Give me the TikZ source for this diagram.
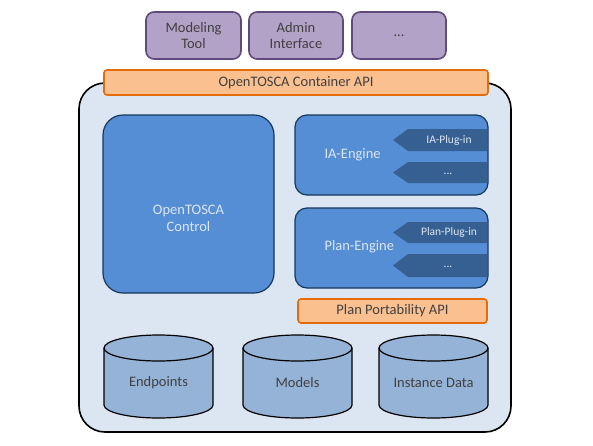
\documentclass[tikz,border=0pt]{standalone}
\usepackage{fontspec}
\setmainfont{Carlito}
\definecolor{purfill}{HTML}{B3A2C7}
\definecolor{purdraw}{HTML}{604A7B}
\definecolor{orfill}{HTML}{FAC090}
\definecolor{ordraw}{HTML}{E46C0A}
\definecolor{outfill}{HTML}{DCE6F2}
\definecolor{bluefill}{HTML}{558ED5}
\definecolor{bluedraw}{HTML}{17375E}
\definecolor{plugfill}{HTML}{376092}
\definecolor{cylfill}{HTML}{95B3D7}
\definecolor{txtgray}{HTML}{404040}
\definecolor{txtlight}{HTML}{DCE6F2}
\tikzset{
  toolbox/.style={draw=purdraw, fill=purfill, line width=1.6pt, rounded corners=8pt},
  apibox/.style={draw=ordraw, fill=orfill, line width=1.6pt, rounded corners=3pt},
  outerbox/.style={draw=black, fill=outfill, line width=1.6pt, rounded corners=26pt},
  ctrlbox/.style={draw=bluedraw, fill=bluefill, line width=1.2pt, rounded corners=20pt},
  enginebox/.style={draw=bluedraw, fill=bluefill, line width=1.2pt, rounded corners=12pt},
  plugshape/.style={fill=plugfill, draw=none},
  cylshape/.style={draw=black, fill=cylfill, line width=1.2pt},
  darktext/.style={text=txtgray, font=\fontsize{14.5}{16}\selectfont, align=center},
  lighttext/.style={text=txtlight, font=\fontsize{14.5}{17}\selectfont, align=center},
  plugtext/.style={text=txtlight, font=\fontsize{11.5}{13}\selectfont},
}
\newcommand{\mycyl}[5]{% name, left, right, label x, label
  \draw[cylshape] (#2,348) -- (#2,405)
    arc[start angle=180,end angle=360,x radius={(#3-#2)/2*1pt},y radius=13pt]
    -- (#3,348)
    arc[start angle=0,end angle=180,x radius={(#3-#2)/2*1pt},y radius=13pt] -- cycle;
  \draw[cylshape, fill=none] (#2,348)
    arc[start angle=180,end angle=360,x radius={(#3-#2)/2*1pt},y radius=13pt];
  \node[darktext] (#1) at (#4,383) {#5};
}
\begin{document}
\begin{tikzpicture}[x=1pt,y=-1pt]
\useasboundingbox (0,0) rectangle (593,445);
% top tools
\draw[toolbox] (146,12) rectangle (241,59);
\node[darktext] (modeling) at (193.5,35.5) {Modeling\\Tool};
\draw[toolbox] (249,12) rectangle (343,59);
\node[darktext] (admin) at (296,35.5) {Admin\\Interface};
\draw[toolbox] (352,12) rectangle (446,59);
\node[darktext] (dots) at (399,35.5) {...};
% outer container
\draw[outerbox] (79,83) rectangle (511,432);
% container api
\draw[apibox] (104,70) rectangle (488,95);
\node[darktext] (capi) at (296,82.5) {OpenTOSCA Container API};
% control
\draw[ctrlbox] (103,115) rectangle (274,293);
\node[lighttext] (control) at (188.5,218) {OpenTOSCA\\Control};
% IA engine
\draw[enginebox] (295,115) rectangle (488,195);
\node[lighttext, anchor=west] (ia) at (321,155) {IA-Engine};
\fill[plugshape] (408,129) -- (487.4,129) -- (487.4,151) -- (408,151) -- (393,140) -- cycle;
\node[plugtext] (iaplug) at (449,140) {IA-Plug-in};
\fill[plugshape] (408,162) -- (487.4,162) -- (487.4,183) -- (408,183) -- (393,172.5) -- cycle;
\node[plugtext] (iadots) at (448,174) {...};
% Plan engine
\draw[enginebox] (295,208) rectangle (488,288);
\node[lighttext, anchor=west] (plan) at (321,247) {Plan-Engine};
\fill[plugshape] (408,222) -- (487.4,222) -- (487.4,243) -- (408,243) -- (393,232.5) -- cycle;
\node[plugtext] (planplug) at (449,232.5) {Plan-Plug-in};
\fill[plugshape] (408,254) -- (487.4,254) -- (487.4,277) -- (408,277) -- (393,265.5) -- cycle;
\node[plugtext] (plandots) at (448,267) {...};
% plan portability api
\draw[apibox] (298,299) rectangle (487,323);
\node[darktext] (ppapi) at (392.5,311) {Plan Portability API};
% cylinders
\mycyl{endpoints}{104}{213}{158.5}{Endpoints}
\mycyl{models}{243}{352}{297.5}{Models}
\mycyl{instdata}{379}{488}{433.5}{Instance Data}
\end{tikzpicture}
\end{document}
